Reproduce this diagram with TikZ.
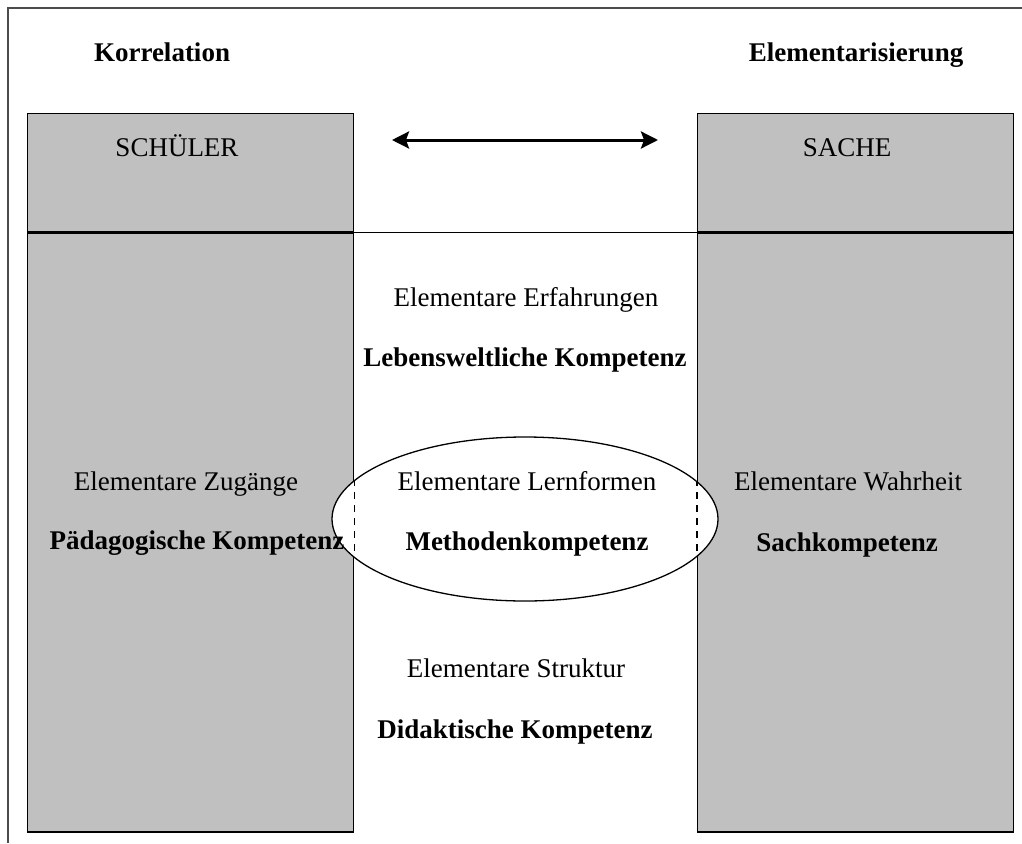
\documentclass[tikz,border=0pt]{standalone}
\usepackage{fontspec}
\setmainfont{Liberation Serif}
\usetikzlibrary{arrows.meta,shapes.geometric}
\definecolor{boxgray}{HTML}{C0C0C0}
\tikzset{dbl/.style={{Stealth[length=17pt,width=17pt,inset=3pt]}-{Stealth[length=17pt,width=17pt,inset=3pt]}, line width=3pt},
  col/.style={draw, fill=boxgray, line width=1.3pt, anchor=north west, inner sep=0pt},
  txt/.style={anchor=base, inner sep=0pt, font=\fontsize{27}{32}\selectfont},
  btxt/.style={txt, font=\fontsize{27}{32}\selectfont\bfseries}}

\begin{document}
\begin{tikzpicture}[x=1pt,y=-1pt]
  \useasboundingbox (0,0) rectangle (1022,843);
  % frame, cut off at right and bottom
  \draw[line width=1.5pt, black!70] (8,843) -- (8,8) -- (1022,8);
  % two columns, head and body
  \node[col, minimum width=326pt, minimum height=118pt] (schueler) at (27,113) {};
  \node[col, minimum width=326pt, minimum height=599pt] (schuelerbody) at (schueler.south west) {};
  \node[col, minimum width=316pt, minimum height=118pt] (sache) at (697,113) {};
  \node[col, minimum width=316pt, minimum height=599pt] (sachebody) at (sache.south west) {};
  \draw[line width=1.3pt] (schueler.south east) -- (sache.south west);
  % ellipse over the inner edges
  \node[ellipse, draw, fill=white, line width=1.3pt, minimum width=386pt, minimum height=164pt, inner sep=0pt] (lern) at (525,519) {};
  \begin{scope}
    \clip (lern.center) ellipse [x radius=193, y radius=82];
    \draw[dash pattern=on 7pt off 6pt, line width=1.3pt] (schuelerbody.north east) -- (schuelerbody.south east)
      (sachebody.north west) -- (sachebody.south west);
  \end{scope}
  % arrow between the heads
  \coordinate (al) at (392,140);
  \coordinate (ar) at (658,140);
  \draw[dbl] (al) -- (ar);
  % labels
  \node[btxt] (korr) at (162,62) {Korrelation};
  \node[btxt] (elem) at (856,62) {Elementarisierung};
  \node[txt] (schuelert) at (177,156) {SCHÜLER};
  \node[txt] (sachet) at (847,156) {SACHE};
  \node[txt] (erf) at (526,306) {Elementare Erfahrungen};
  \node[btxt] (lebens) at (525,366) {Lebensweltliche Kompetenz};
  \node[txt] (zug) at (186,490) {Elementare Zugänge};
  \node[btxt] (paed) at (197,549) {Pädagogische Kompetenz};
  \node[txt] (lernf) at (527,490) {Elementare Lernformen};
  \node[btxt] (meth) at (527,550) {Methodenkompetenz};
  \node[txt] (wahr) at (848,490) {Elementare Wahrheit};
  \node[btxt] (sachk) at (847,551) {Sachkompetenz};
  \node[txt] (strukt) at (516,677) {Elementare Struktur};
  \node[btxt] (didakt) at (515,738) {Didaktische Kompetenz};
\end{tikzpicture}
\end{document}
